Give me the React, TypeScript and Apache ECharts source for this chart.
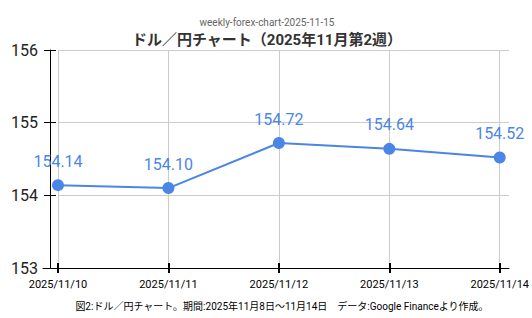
import React, { useEffect, useRef } from "react";
import * as echarts from "echarts";

const categories = ["2025/11/10", "2025/11/11", "2025/11/12", "2025/11/13", "2025/11/14"];
const rates = [154.14, 154.1, 154.72, 154.64, 154.52];
const yMin = 153;
const yMax = 156;
const yInterval = 1;
const subTitleText = "weekly-forex-chart-2025-11-15";
const titleText = "ドル／円チャート（2025年11月第2週）";
const captionText = "図2:ドル／円チャート。期間:2025年11月8日～11月14日　データ:Google Financeより作成。";

const FONT = "Roboto, 'Noto Sans CJK JP', sans-serif";

export default function App() {
  const ref = useRef<HTMLDivElement>(null);
  useEffect(() => {
    if (!ref.current) return;
    const chart = echarts.init(ref.current, null, { renderer: "svg" });
    const top = 50;
    const bottom = 50;
    chart.setOption({
      animation: false,
      backgroundColor: "#ffffff",
      title: [
        {
          text: subTitleText,
          left: 262,
          textAlign: "center",
          top: 12,
          textStyle: { fontSize: 10, color: "#666666", fontWeight: "normal", fontFamily: FONT },
        },
        {
          text: titleText,
          left: 262,
          textAlign: "center",
          top: 27,
          textStyle: { fontSize: 15, color: "#333333", fontWeight: "bold", fontFamily: FONT },
        },
        {
          text: captionText,
          left: 277,
          textAlign: "center",
          top: 296,
          textStyle: { fontSize: 10, color: "#000000", fontWeight: "normal", fontFamily: FONT },
        },
      ],
      grid: [
        { left: 58, right: 32, top, bottom },
        { left: 58, right: 23, top, bottom },
        { left: 43, right: 23, top, bottom },
      ],
      xAxis: [
        {
          gridIndex: 0,
          type: "category",
          data: categories,
          boundaryGap: false,
          axisLine: { show: false },
          axisTick: { show: true, inside: true, length: 5, lineStyle: { color: "#000", width: 2 } },
          axisLabel: { color: "#000", fontSize: 11, margin: 11, fontFamily: FONT },
          splitLine: { show: true, lineStyle: { color: "#cccccc", width: 1 } },
        },
        {
          gridIndex: 0,
          type: "category",
          data: categories,
          boundaryGap: false,
          position: "bottom",
          axisLine: { show: false },
          axisTick: { show: true, inside: false, length: 5, lineStyle: { color: "#000", width: 2 } },
          axisLabel: { show: false },
          splitLine: { show: false },
        },
        {
          gridIndex: 1,
          type: "value",
          show: false,
        },
        {
          gridIndex: 2,
          type: "value",
          axisLine: { show: true, lineStyle: { color: "#000", width: 1 } },
          axisTick: { show: false },
          axisLabel: { show: false },
          splitLine: { show: false },
        },
      ],
      yAxis: [
        {
          gridIndex: 0,
          type: "value",
          min: yMin,
          max: yMax,
          interval: yInterval,
          offset: 8,
          axisLine: { show: true, lineStyle: { color: "#000", width: 1 } },
          axisTick: { show: true, inside: false, length: 6, lineStyle: { color: "#000", width: 1 } },
          axisLabel: { color: "#222", fontSize: 16, margin: 12, fontFamily: FONT },
          splitLine: { show: false },
        },
        {
          gridIndex: 0,
          type: "value",
          min: yMin,
          max: yMax,
          interval: yInterval,
          offset: 8,
          position: "left",
          axisLine: { show: false },
          axisTick: { show: true, inside: true, length: 6, lineStyle: { color: "#000", width: 1 } },
          axisLabel: { show: false },
          splitLine: { show: false },
        },
        {
          gridIndex: 1,
          type: "value",
          min: yMin,
          max: yMax,
          interval: yInterval,
          axisLine: { show: false },
          axisTick: { show: false },
          axisLabel: { show: false },
          splitLine: { show: true, lineStyle: { color: "#cccccc", width: 1 } },
        },
        {
          gridIndex: 2,
          type: "value",
          show: false,
          min: yMin,
          max: yMax,
        },
      ],
      series: [
        {
          type: "line",
          xAxisIndex: 0,
          yAxisIndex: 0,
          data: rates,
          z: 5,
          symbol: "circle",
          symbolSize: 12,
          lineStyle: { color: "#4a86e8", width: 2 },
          itemStyle: { color: "#4a86e8" },
          label: {
            show: true,
            position: "top",
            distance: 10,
            color: "#4a86e8",
            fontSize: 16,
            fontFamily: FONT,
            formatter: (p: any) => Number(p.value).toFixed(2),
          },
        },
      ],
    });
    return () => chart.dispose();
  }, []);
  return <div ref={ref} style={{ width: 532, height: 318, position: "absolute", left: 0, top: 0 }} />;
}
